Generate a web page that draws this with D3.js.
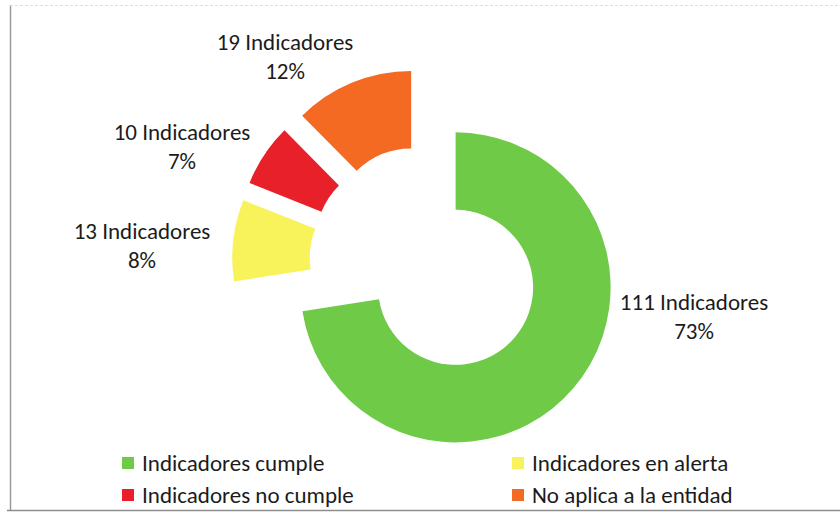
<!DOCTYPE html>
<html>
<head>
<meta charset="utf-8">
<script src="https://cdn.jsdelivr.net/npm/d3@7"></script>
<style>
  html, body { margin: 0; padding: 0; background: #fff; }
  svg { display: block; }
  text { font-family: Carlito, Calibri, Lato, "Open Sans", sans-serif; fill: #1b1b1b; }
</style>
</head>
<body>
<svg id="chart" width="840" height="513"></svg>
<script>
// Indicator status counts
const categories = ["Indicadores cumple", "Indicadores en alerta", "Indicadores no cumple", "No aplica a la entidad"];
const counts = [111, 13, 10, 19];
const colors = ["#6fcb47", "#f8f35b", "#e8202a", "#f46a22"];
const unit = "Indicadores";

// Layout of the doughnut and its labels
const cx = 426, cy = 262;
const outerR = 155, innerR = 77.5;
const explode = 39;
// where each data label sits (centre of the two-line block)
const labelPos = [[694, 316], [142, 245], [182, 146], [285, 56]];
// legend layout: [column x, row y] per category
const legendPos = [[122, 463], [512, 463], [122, 495], [512, 495]];
const fontSize = 23;

const svg = d3.select("#chart");

// chart frame
svg.append("line").attr("x1", 10.5).attr("x2", 10.5).attr("y1", 5).attr("y2", 510)
  .attr("stroke", "#9a9a9a").attr("stroke-width", 1.5);
svg.append("line").attr("x1", 7).attr("x2", 840).attr("y1", 510.5).attr("y2", 510.5)
  .attr("stroke", "#8e8e8e").attr("stroke-width", 1.5);
svg.append("line").attr("x1", 10).attr("x2", 840).attr("y1", 5.5).attr("y2", 5.5)
  .attr("stroke", "#dcdcdc").attr("stroke-width", 1).attr("stroke-dasharray", "3,2");

const total = d3.sum(counts);
const pie = d3.pie().sort(null).value(d => d).startAngle(0).endAngle(2 * Math.PI);
const arc = d3.arc().innerRadius(innerR).outerRadius(outerR);
const arcs = pie(counts);

const g = svg.append("g").attr("transform", `translate(${cx},${cy})`);
g.selectAll("path.slice")
  .data(arcs)
  .join("path")
  .attr("class", "slice")
  .attr("fill", (d, i) => colors[i])
  .attr("transform", d => {
    const mid = (d.startAngle + d.endAngle) / 2;
    return `translate(${explode * Math.sin(mid)},${-explode * Math.cos(mid)})`;
  })
  .attr("d", arc);

// data labels: count and share of total
const labels = svg.selectAll("g.lbl")
  .data(arcs)
  .join("g")
  .attr("class", "lbl")
  .attr("transform", (d, i) => `translate(${labelPos[i][0]},${labelPos[i][1]})`);
labels.append("text")
  .attr("text-anchor", "middle")
  .attr("y", -14.5).attr("dy", "0.35em")
  .attr("font-size", fontSize)
  .text(d => `${d.data} ${unit}`);
labels.append("text")
  .attr("text-anchor", "middle")
  .attr("y", 14.5).attr("dy", "0.35em")
  .attr("font-size", fontSize)
  .text(d => `${Math.round(d.data / total * 100)}%`);

// legend
const leg = svg.selectAll("g.leg")
  .data(categories)
  .join("g")
  .attr("class", "leg")
  .attr("transform", (d, i) => `translate(${legendPos[i][0]},${legendPos[i][1]})`);
leg.append("rect")
  .attr("x", 0).attr("y", -6).attr("width", 12).attr("height", 12)
  .attr("fill", (d, i) => colors[i]);
leg.append("text")
  .attr("x", 20).attr("dy", "0.35em")
  .attr("font-size", fontSize)
  .text(d => d);
</script>
</body>
</html>
